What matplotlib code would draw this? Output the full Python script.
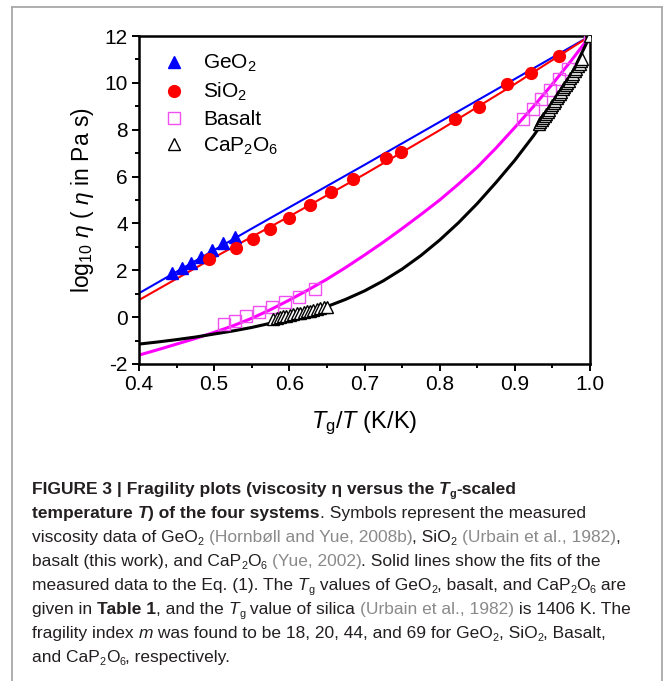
import matplotlib
matplotlib.use('Agg')
import matplotlib.pyplot as plt
from matplotlib.lines import Line2D
from matplotlib.transforms import IdentityTransform

plt.rcParams['font.family'] = ['Liberation Sans', 'DejaVu Sans']
plt.rcParams['mathtext.fontset'] = 'custom'
plt.rcParams['mathtext.rm'] = 'Liberation Sans'
plt.rcParams['mathtext.it'] = 'Liberation Sans:italic'
plt.rcParams['mathtext.bf'] = 'Liberation Sans:bold'
plt.rcParams['axes.unicode_minus'] = False

geo2_x = [0.444, 0.457, 0.469, 0.482, 0.497, 0.512, 0.528]
geo2_y = [1.88, 2.08, 2.32, 2.58, 2.85, 3.15, 3.42]

sio2_x = [0.493, 0.529, 0.552, 0.574, 0.600, 0.628, 0.656, 0.685, 0.729, 0.749,
          0.820, 0.852, 0.889, 0.922, 0.959]
sio2_y = [2.50, 2.95, 3.34, 3.77, 4.22, 4.77, 5.33, 5.88, 6.78, 7.06,
          8.46, 8.96, 9.95, 10.41, 11.16]

basalt_x = [0.513, 0.528, 0.543, 0.560, 0.577, 0.594, 0.613, 0.634,
            0.911, 0.924, 0.935, 0.947, 0.959, 0.971, 1.000]
basalt_y = [-0.31, -0.15, 0.05, 0.23, 0.42, 0.66, 0.88, 1.19,
            8.45, 8.90, 9.30, 9.70, 10.15, 10.60, 12.00]

cap_x = [0.578, 0.583, 0.587, 0.592, 0.596, 0.601, 0.605, 0.610, 0.614, 0.619,
         0.623, 0.628, 0.632, 0.637, 0.641, 0.646, 0.650,
         0.932, 0.934, 0.936, 0.938, 0.940, 0.942, 0.944, 0.946, 0.948, 0.950,
         0.952, 0.954, 0.956, 0.958, 0.960, 0.962, 0.964, 0.966, 0.968, 0.970,
         0.972, 0.974, 0.976, 0.978, 0.980, 0.982, 0.984, 0.986, 0.988, 0.989,
         1.000]
cap_y = [-0.08, -0.04, 0.00, 0.03, 0.07, 0.10, 0.13, 0.16, 0.19, 0.22,
         0.25, 0.28, 0.31, 0.35, 0.38, 0.42, 0.45,
         8.25, 8.32, 8.40, 8.48, 8.57, 8.66, 8.75, 8.85, 8.95, 9.04,
         9.14, 9.24, 9.34, 9.44, 9.54, 9.63, 9.72, 9.81, 9.90, 10.00,
         10.10, 10.20, 10.30, 10.40, 10.50, 10.60, 10.71, 10.82, 10.94, 11.00,
         12.00]

# fitted curves
geo2_fit_x = [0.40, 0.55, 0.70, 0.85, 1.00]
geo2_fit_y = [1.02, 3.78, 6.50, 9.25, 12.00]

sio2_fit_x = [0.40, 0.50, 0.60, 0.70, 0.80, 0.90, 1.00]
sio2_fit_y = [0.73, 2.55, 4.30, 6.10, 7.98, 9.95, 12.00]

basalt_fit_x = [0.400, 0.425, 0.450, 0.475, 0.500, 0.525, 0.550, 0.575, 0.600,
                0.625, 0.650, 0.675, 0.700, 0.725, 0.750, 0.775, 0.800, 0.825,
                0.850, 0.875, 0.900, 0.925, 0.950, 0.975, 1.000]
basalt_fit_y = [-1.62, -1.39, -1.15, -0.91, -0.65, -0.37, -0.05, 0.32, 0.73,
                1.16, 1.62, 2.12, 2.65, 3.20, 3.78, 4.38, 5.00, 5.68,
                6.40, 7.22, 8.10, 9.00, 9.95, 10.95, 12.00]

cap_fit_x = [0.400, 0.425, 0.450, 0.475, 0.500, 0.525, 0.550, 0.575, 0.600,
             0.625, 0.650, 0.675, 0.700, 0.725, 0.750, 0.775, 0.800, 0.825,
             0.850, 0.875, 0.900, 0.925, 0.950, 0.975, 1.000]
cap_fit_y = [-1.15, -1.06, -0.96, -0.85, -0.72, -0.59, -0.44, -0.26, -0.05,
             0.18, 0.45, 0.76, 1.12, 1.55, 2.05, 2.63, 3.29, 4.03,
             4.85, 5.75, 6.70, 7.75, 8.90, 10.35, 12.00]

x_ticks = [0.4, 0.5, 0.6, 0.7, 0.8, 0.9, 1.0]
y_ticks = [-2, 0, 2, 4, 6, 8, 10, 12]

fig = plt.figure(figsize=(6.64, 6.81), dpi=100)
ax = fig.add_axes([0.2093, 0.4655, 0.6793, 0.4816])

ax.plot(geo2_fit_x, geo2_fit_y, color='#0000ff', lw=1.5, zorder=2)
ax.plot(sio2_fit_x, sio2_fit_y, color='#ff0000', lw=1.5, zorder=2)
ax.plot(basalt_fit_x, basalt_fit_y, color='#ff00ff', lw=2.2, zorder=2)
ax.plot(cap_fit_x, cap_fit_y, color='black', lw=2.2, zorder=2)

ax.plot(geo2_x, geo2_y, ls='none', marker='^', ms=9, color='#0000ff',
        mec='#0000ff', label='GeO$_2$', zorder=3)
ax.plot(sio2_x, sio2_y, ls='none', marker='o', ms=8.5, color='#ff0000',
        mec='#ff0000', label='SiO$_2$', zorder=3)
ax.plot(basalt_x, basalt_y, ls='none', marker='s', ms=8, mfc='none',
        mec='#f050f0', mew=1.0, label='Basalt', zorder=3)
ax.plot(cap_x, cap_y, ls='none', marker='^', ms=8.5, mfc='white',
        mec='black', mew=1.0, label='CaP$_2$O$_6$', zorder=4)

ax.set_xlim(0.4, 1.0)
ax.set_ylim(-2, 12)
ax.set_xticks(x_ticks)
ax.set_xticklabels(['%.1f' % v for v in x_ticks])
ax.set_yticks(y_ticks)
ax.set_xticks([0.45, 0.55, 0.65, 0.75, 0.85, 0.95], minor=True)
ax.set_yticks([-1, 1, 3, 5, 7, 9, 11], minor=True)
ax.tick_params(which='both', direction='out', width=1.4, labelsize=15,
               top=False, right=False)
ax.tick_params(which='major', length=5, pad=3)
ax.tick_params(which='minor', length=3)
for s in ax.spines.values():
    s.set_linewidth(1.8)

ax.set_xlabel(r'$T_{\rm g}$/$T$ (K/K)', fontsize=17, labelpad=11)
ax.set_ylabel(r'log$_{10}$ $\eta$ ( $\eta$ in Pa s)', fontsize=16.5, labelpad=6)

ax.legend(loc='upper left', bbox_to_anchor=(0.055, 0.948), frameon=False,
          fontsize=15, handlelength=1.0, handletextpad=0.9, labelspacing=0.32,
          borderaxespad=0, borderpad=0, numpoints=1)

# frame round the figure panel
frame_color = '#a8a8a8'
W, H = 664, 681
for xs, ys in [([12, 12], [H - 7, -5]), ([12, 662], [H - 7, H - 7]),
               ([662, 662], [H - 7, -5])]:
    fig.add_artist(Line2D(xs, ys, transform=IdentityTransform(),
                          color=frame_color, lw=1.3))

# caption
caption_lines = [
    [("FIGURE 3 | Fragility plots (viscosity η versus the ", "b"), ("T", "bi"),
     ("g", "bs"), ("-scaled", "b")],
    [("temperature ", "b"), ("T", "bi"), (") of the four systems", "b"),
     (". Symbols represent the measured", "")],
    [("viscosity data of GeO", ""), ("2", "s"), (" ", ""),
     ("(Hornbøll and Yue, 2008b)", "g"), (", SiO", ""), ("2", "s"), (" ", ""),
     ("(Urbain et al., 1982)", "g"), (",", "")],
    [("basalt (this work), and CaP", ""), ("2", "s"), ("O", ""), ("6", "s"),
     (" ", ""), ("(Yue, 2002)", "g"), (". Solid lines show the fits of the", "")],
    [("measured data to the Eq. (1). The ", ""), ("T", "i"), ("g", "s"),
     (" values of GeO", ""), ("2", "s"), (", basalt, and CaP", ""), ("2", "s"),
     ("O", ""), ("6", "s"), (" are", "")],
    [("given in ", ""), ("Table 1", "b"), (", and the ", ""), ("T", "i"), ("g", "s"),
     (" value of silica ", ""), ("(Urbain et al., 1982)", "g"),
     (" is 1406 K. The", "")],
    [("fragility index ", ""), ("m", "i"),
     (" was found to be 18, 20, 44, and 69 for GeO", ""), ("2", "s"),
     (", SiO", ""), ("2", "s"), (", Basalt,", "")],
    [("and CaP", ""), ("2", "s"), ("O", ""), ("6", "s"), (", respectively.", "")],
]
caption_size = 12.5
renderer = fig.canvas.get_renderer()


def seg_props(flags):
    size = caption_size * (0.62 if 's' in flags else 1.0)
    return dict(fontsize=size,
                fontweight='bold' if 'b' in flags else 'normal',
                fontstyle='italic' if 'i' in flags else 'normal',
                color='#8a8a8a' if 'g' in flags else '#231f20')


def seg_width(text, props):
    a = fig.text(0, 0, '|' + text + '|', transform=IdentityTransform(), **props)
    b = fig.text(0, 0, '||', transform=IdentityTransform(), **props)
    w = a.get_window_extent(renderer).width - b.get_window_extent(renderer).width
    a.remove()
    b.remove()
    return w


y0 = H - 494
for i, line in enumerate(caption_lines):
    x = 32
    y = y0 - i * 24
    for text, flags in line:
        props = seg_props(flags)
        dy = -3 if 's' in flags else 0
        fig.text(x, y + dy, text, transform=IdentityTransform(),
                 va='baseline', ha='left', **props)
        x += seg_width(text, props)

fig.savefig('out.png', dpi=100)
